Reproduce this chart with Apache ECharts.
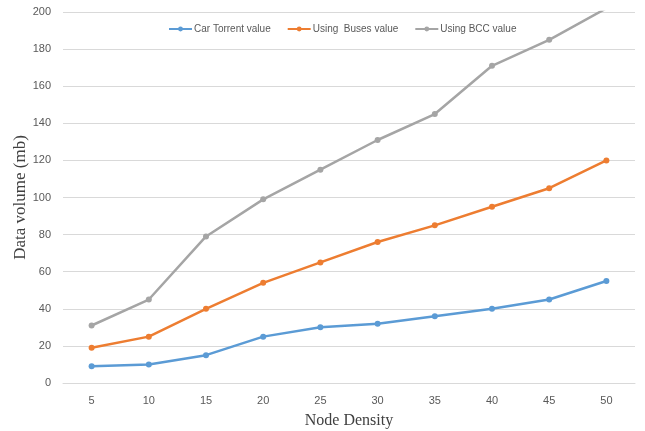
<!DOCTYPE html>
<html>
<head>
<meta charset="utf-8">
<script src="https://cdn.jsdelivr.net/npm/echarts@6/dist/echarts.min.js"></script>
<style>
  html, body { margin: 0; padding: 0; background: #fff; }
  #chart { width: 645px; height: 431px; }
</style>
</head>
<body>
<div id="chart"></div>
<script>
const categories = ['5', '10', '15', '20', '25', '30', '35', '40', '45', '50'];
const carTorrent = [9, 10, 15, 25, 30, 32, 36, 40, 45, 55];
const usingBuses = [19, 25, 40, 54, 65, 76, 85, 95, 105, 120];
const usingBcc = [31, 45, 79, 99, 115, 131, 145, 171, 185, 202];
const seriesNames = ['Car Torrent value', 'Using  Buses value', 'Using BCC value'];
const colors = ['#5B9BD5', '#ED7D31', '#A5A5A5'];

const chart = echarts.init(document.getElementById('chart'));

function lineSeries(name, data, color) {
  return {
    name: name,
    type: 'line',
    data: data,
    color: color,
    symbol: 'circle',
    symbolSize: 6,
    clip: true,
    lineStyle: { width: 2.5, color: color },
    itemStyle: { color: color }
  };
}

chart.setOption({
  animation: false,
  grid: { left: 63, right: 10, top: 12, bottom: 48, containLabel: false, outerBoundsMode: 'none' },
  legend: {
    top: 19,
    left: 163,
    itemWidth: 23,
    itemHeight: 6,
    itemGap: 16,
    textStyle: { fontFamily: 'Liberation Sans', fontSize: 10, color: '#595959', padding: [0, 0, 0, -3] },
    data: seriesNames
  },
  xAxis: {
    type: 'category',
    data: categories,
    boundaryGap: true,
    name: 'Node Density',
    nameLocation: 'middle',
    nameGap: 30,
    nameMoveOverlap: false,
    nameTextStyle: { fontFamily: 'Liberation Serif', fontSize: 16, color: '#404040' },
    axisLine: { lineStyle: { color: '#d9d9d9', width: 1 } },
    axisTick: { show: false },
    axisLabel: { fontFamily: 'Liberation Sans', fontSize: 11, color: '#595959', margin: 12 },
  },
  yAxis: {
    type: 'value',
    min: 0,
    max: 200,
    interval: 20,
    name: 'Data volume (mb)',
    nameLocation: 'middle',
    nameGap: 34,
    nameMoveOverlap: false,
    nameTextStyle: { fontFamily: 'Liberation Serif', fontSize: 17, color: '#404040' },
    axisLine: { show: false },
    axisTick: { show: false },
    axisLabel: { fontFamily: 'Liberation Sans', fontSize: 11, color: '#595959', margin: 12 },
    splitLine: { lineStyle: { color: '#d9d9d9', width: 1 } }
  },
  series: [
    lineSeries(seriesNames[0], carTorrent, colors[0]),
    lineSeries(seriesNames[1], usingBuses, colors[1]),
    lineSeries(seriesNames[2], usingBcc, colors[2])
  ]
});
</script>
</body>
</html>
